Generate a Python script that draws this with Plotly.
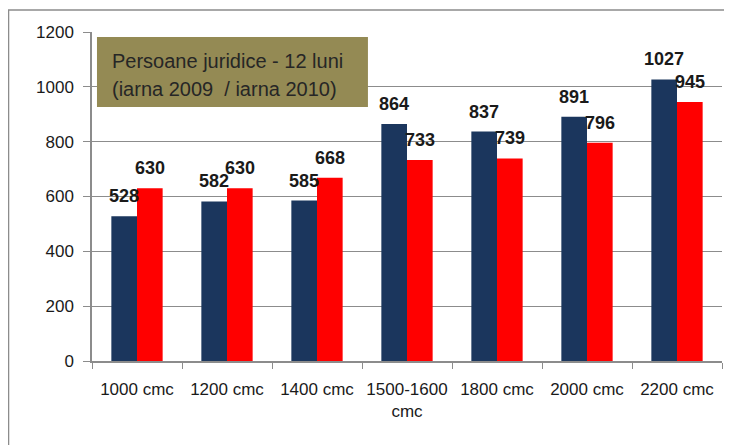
import plotly.graph_objects as go

categories = ["1000 cmc", "1200 cmc", "1400 cmc", "1500-1600<br>cmc", "1800 cmc", "2000 cmc", "2200 cmc"]
iarna_2009 = [528, 582, 585, 864, 837, 891, 1027]
iarna_2010 = [630, 630, 668, 733, 739, 796, 945]
y_ticks = [0, 200, 400, 600, 800, 1000, 1200]
title_lines = ["Persoane juridice - 12 luni", "(iarna 2009  / iarna 2010)"]

NAVY = "#1B365D"
RED = "#FF0000"
TXT = "#1a1a1a"
FONT = "Liberation Sans"

fig = go.Figure()
fig.add_bar(x=categories, y=iarna_2009, marker=dict(color=NAVY, line=dict(width=0)), name="iarna 2009")
fig.add_bar(x=categories, y=iarna_2010, marker=dict(color=RED, line=dict(width=0)), name="iarna 2010")

# data labels
for cat, v in zip(categories, iarna_2009):
    fig.add_annotation(x=cat, y=v, text=f"<b>{v}</b>", showarrow=False, xshift=-12.8, yshift=8,
                       yanchor="bottom", font=dict(family=FONT, size=18, color=TXT))
for cat, v in zip(categories, iarna_2010):
    fig.add_annotation(x=cat, y=v, text=f"<b>{v}</b>", showarrow=False, xshift=12.8, yshift=8,
                       yanchor="bottom", font=dict(family=FONT, size=18, color=TXT))

# title box
fig.add_shape(type="rect", xref="paper", yref="paper", x0=0.0079, x1=0.438, y0=0.772, y1=0.985,
              fillcolor="#948A54", line=dict(width=0), layer="above")
fig.add_annotation(xref="paper", yref="paper", x=0.029, y=0.913, xanchor="left", yanchor="middle",
                   text=title_lines[0], showarrow=False, font=dict(family=FONT, size=20, color="#262626"))
fig.add_annotation(xref="paper", yref="paper", x=0.029, y=0.828, xanchor="left", yanchor="middle",
                   text=title_lines[1], showarrow=False, font=dict(family=FONT, size=20, color="#262626"))

# outer chart border
fig.add_shape(type="rect", xref="paper", yref="paper", x0=-0.1325, x1=1.4, y0=-0.6, y1=1.0669,
              line=dict(color="#8C8C8C", width=1.5), fillcolor="rgba(0,0,0,0)", layer="below")

fig.update_layout(
    width=724, height=437,
    margin=dict(l=84, r=10, t=24, b=84),
    paper_bgcolor="white", plot_bgcolor="white",
    barmode="group", bargap=0.43, bargroupgap=0,
    showlegend=False,
    font=dict(family=FONT, size=17, color=TXT),
)
fig.update_xaxes(tickson="boundaries", ticks="outside", ticklen=6, tickcolor="#8C8C8C",
                 showline=True, linecolor="#8C8C8C", linewidth=1.5, showgrid=False,
                 ticklabelstandoff=12,
                 tickfont=dict(family=FONT, size=17, color=TXT), tickangle=0)
fig.update_yaxes(range=[0, 1200], tickvals=y_ticks, ticks="outside", ticklen=7, tickcolor="#8C8C8C",
                 showline=True, linecolor="#8C8C8C", linewidth=1.5, showgrid=True,
                 gridcolor="#8C8C8C", gridwidth=1, zeroline=False, ticklabelstandoff=6,
                 tickfont=dict(family=FONT, size=17, color=TXT))

fig.write_html("out.html", config={"displayModeBar": False})
